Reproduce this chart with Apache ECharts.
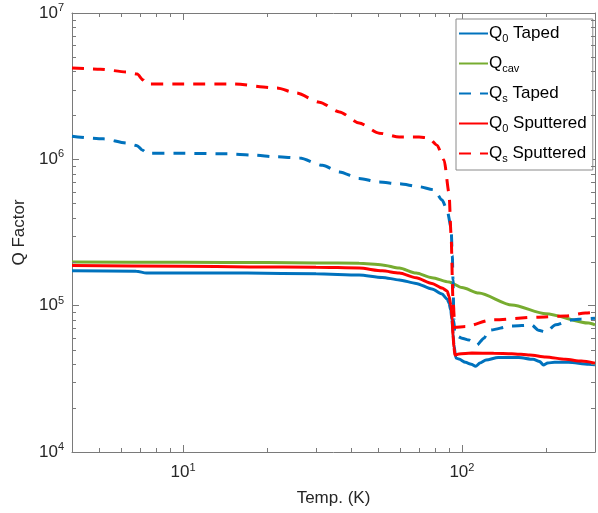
<!DOCTYPE html>
<html>
<head>
<meta charset="utf-8">
<script src="https://cdn.jsdelivr.net/npm/echarts@6/dist/echarts.min.js"></script>
<style>
  html, body { margin: 0; padding: 0; background: #fff; }
  #chart { width: 598px; height: 513px; }
</style>
</head>
<body>
<div id="chart"></div>
<script>
// Q0 Taped (blue solid)
var tempQ0Taped = [4, 6.8, 7.4, 17, 30, 42.8, 51.8, 59.6, 68.5, 78.1, 84.9, 88.5, 89.9, 91.2, 92.1, 93.0, 93.6, 95.1, 97.5, 103, 108, 112, 116, 122, 135, 160, 180, 190, 196, 203, 215, 241, 285, 300];
var q0Taped = [1.73e5, 1.72e5, 1.67e5, 1.67e5, 1.65e5, 1.62e5, 1.56e5, 1.50e5, 1.42e5, 1.30e5, 1.20e5, 1.11e5, 1.04e5, 9.3e4, 8.0e4, 6.4e4, 5.4e4, 4.39e4, 4.32e4, 4.1e4, 3.98e4, 3.85e4, 4.05e4, 4.25e4, 4.42e4, 4.42e4, 4.3e4, 4.15e4, 3.93e4, 4.05e4, 4.11e4, 4.1e4, 3.98e4, 3.95e4];

// Qcav (green)
var tempQcav = [4, 10, 20, 30, 42.8, 51.8, 59.6, 68.5, 78.1, 89.9, 100, 115, 151, 200, 285, 300];
var qCav = [1.99e5, 1.98e5, 1.97e5, 1.96e5, 1.95e5, 1.90e5, 1.81e5, 1.67e5, 1.55e5, 1.45e5, 1.33e5, 1.22e5, 1.01e5, 8.8e4, 7.6e4, 7.4e4];

// Qs Taped (blue dashed)
var tempQsTaped = [4, 5.18, 6.31, 6.85, 7.14, 7.43, 10, 14.4, 17.8, 21.7, 26.2, 31.6, 36.4, 42.8, 50.5, 59.6, 70.2, 79.4, 84.9, 88.5, 91.4, 92.4, 92.9, 93.6, 94.4, 100, 106, 113, 120, 125, 151, 178, 188, 200, 217, 247, 268, 300];
var qsTaped = [1.44e6, 1.38e6, 1.29e6, 1.24e6, 1.16e6, 1.10e6, 1.10e6, 1.09e6, 1.07e6, 1.04e6, 1.02e6, 9.1e5, 8.2e5, 7.4e5, 7.0e5, 6.8e5, 6.5e5, 6.2e5, 5.27e5, 4.5e5, 3.44e5, 2.2e5, 1.5e5, 7.9e4, 6.3e4, 6.0e4, 5.82e4, 5.38e4, 6.0e4, 6.8e4, 7.26e4, 7.37e4, 6.8e4, 6.6e4, 7.4e4, 7.98e4, 8.1e4, 8.2e4];

// Q0 Sputtered (red solid)
var tempQ0Sput = [4, 10, 17.3, 30, 42.8, 51.8, 59.6, 68.5, 78.1, 84.9, 88.5, 89.9, 91.4, 92.3, 92.9, 93.6, 94.4, 97.5, 108.6, 130, 151, 175, 200, 235, 268, 300];
var q0Sput = [1.88e5, 1.86e5, 1.84e5, 1.83e5, 1.81e5, 1.73e5, 1.67e5, 1.55e5, 1.42e5, 1.32e5, 1.26e5, 1.16e5, 1.0e5, 8.0e4, 6.3e4, 5.2e4, 4.6e4, 4.67e4, 4.74e4, 4.73e4, 4.7e4, 4.6e4, 4.46e4, 4.3e4, 4.18e4, 4.05e4];

// Qs Sputtered (red dashed)
var tempQsSput = [4, 5.06, 6.31, 6.85, 7.2, 7.43, 10, 15.1, 21.7, 25.5, 30.8, 36.4, 42.8, 50.5, 59.6, 70.2, 76, 81.4, 86.3, 89.9, 91.4, 92.9, 94.4, 103, 128, 188, 235, 277, 300];
var qsSput = [4.21e6, 4.13e6, 3.95e6, 3.83e6, 3.48e6, 3.27e6, 3.27e6, 3.27e6, 3.07e6, 2.84e6, 2.46e6, 2.11e6, 1.77e6, 1.51e6, 1.42e6, 1.42e6, 1.40e6, 1.25e6, 9.9e5, 5.9e5, 3.1e5, 1.09e5, 7.1e4, 7.2e4, 8.0e4, 8.35e4, 8.5e4, 8.9e4, 9.0e4];

var seriesNames = ['Q0 Taped', 'Qcav', 'Qs Taped', 'Q0 Sputtered', 'Qs Sputtered'];
var legendLabels = {
    'Q0 Taped': '{t|Q}{s|0}{t| Taped}',
    'Qcav': '{t|Q}{s|cav}',
    'Qs Taped': '{t|Q}{s|s}{t| Taped}',
    'Q0 Sputtered': '{t|Q}{s|0}{t| Sputtered}',
    'Qs Sputtered': '{t|Q}{s|s}{t| Sputtered}'
};

var xMin = 4, xMax = 300, yMin = 1e4, yMax = 1e7;
var xMinorTicks = [5, 6, 7, 8, 9, 20, 30, 40, 50, 60, 70, 80, 90, 200];
var yMinorTicks = [2e4, 3e4, 4e4, 5e4, 6e4, 7e4, 8e4, 9e4, 2e5, 3e5, 4e5, 5e5, 6e5, 7e5, 8e5, 9e5, 2e6, 3e6, 4e6, 5e6, 6e6, 7e6, 8e6, 9e6];

var FONT = '"Liberation Sans", Arial, Helvetica, sans-serif';
var AXIS_COLOR = '#7a7a7a';
var TEXT_COLOR = '#262626';
var BLUE = '#0072BD', GREEN = '#77AC30', RED = '#FF0000';

function pairs(xs, ys) {
    return xs.map(function (x, i) { return [x, ys[i]]; });
}

function powLabel(value) {
    var e = Math.round(Math.log10(value));
    if (Math.abs(Math.log10(value) - e) > 1e-6) return '';
    return '{b|10}{p|' + e + '}';
}

var powRich = {
    b: { fontSize: 17, fontFamily: FONT, color: TEXT_COLOR },
    p: { fontSize: 11, fontFamily: FONT, color: TEXT_COLOR, padding: [0, 0, 10, 0] }
};

function lineSeries(name, xs, ys, color, dashed) {
    return {
        name: name,
        type: 'line',
        data: pairs(xs, ys),
        symbol: 'none',
        smooth: 0.25,
        smoothMonotone: 'x',
        lineStyle: {
            color: color,
            width: 3,
            type: dashed ? [12, 9] : 'solid'
        },
        itemStyle: { color: color },
        z: 3
    };
}

// short inward ticks between the powers of ten, drawn on all four sides
function minorTickSeries(values, isX) {
    return {
        type: 'custom',
        silent: true,
        z: 5,
        clip: false,
        data: values.map(function (v) { return isX ? [v, yMin] : [xMin, v]; }),
        renderItem: function (params, api) {
            var cs = params.coordSys;
            var p = api.coord([api.value(0), api.value(1)]);
            var st = { stroke: AXIS_COLOR, lineWidth: 1 };
            var len = 4;
            if (isX) {
                var x = Math.round(p[0]) + 0.5;
                return { type: 'group', children: [
                    { type: 'line', shape: { x1: x, y1: cs.y + cs.height, x2: x, y2: cs.y + cs.height - len }, style: st },
                    { type: 'line', shape: { x1: x, y1: cs.y, x2: x, y2: cs.y + len }, style: st }
                ] };
            }
            var y = Math.round(p[1]) + 0.5;
            return { type: 'group', children: [
                { type: 'line', shape: { x1: cs.x, y1: y, x2: cs.x + len, y2: y }, style: st },
                { type: 'line', shape: { x1: cs.x + cs.width, y1: y, x2: cs.x + cs.width - len, y2: y }, style: st }
            ] };
        }
    };
}

var chart = echarts.init(document.getElementById('chart'));

var axisBase = {
    type: 'log',
    logBase: 10,
    axisLine: { show: true, lineStyle: { color: AXIS_COLOR, width: 1 } },
    axisTick: { show: true, inside: true, length: 7, lineStyle: { color: AXIS_COLOR } },
    splitLine: { show: false },
    minorTick: { show: false }
};

var option = {
    animation: false,
    backgroundColor: '#fff',
    grid: { left: 72, right: 1, top: 13, bottom: 61 },
    legend: {
        data: seriesNames,
        orient: 'vertical',
        left: 456,
        top: 19,
        padding: [6, 6, 6, 2],
        itemGap: 11,
        itemWidth: 29,
        itemHeight: 14,
        backgroundColor: '#fff',
        borderColor: '#8a8a8a',
        borderWidth: 1,
        borderRadius: 0,
        itemStyle: { opacity: 0, borderWidth: 0 },
        formatter: function (name) { return legendLabels[name]; },
        textStyle: {
            padding: [0, 0, 0, -4],
            rich: {
                t: { fontSize: 17, fontFamily: FONT, color: '#000' },
                s: { fontSize: 11, fontFamily: FONT, color: '#000', padding: [10, 0, 0, 0] }
            }
        }
    },
    xAxis: [
        Object.assign({}, axisBase, {
            position: 'bottom',
            min: xMin,
            max: xMax,
            name: 'Temp. (K)',
            nameLocation: 'middle',
            nameGap: 38,
            nameTextStyle: { fontSize: 17, fontFamily: FONT, color: TEXT_COLOR },
            axisLabel: { show: true, margin: 10, formatter: powLabel, rich: powRich }
        }),
        Object.assign({}, axisBase, {
            position: 'top',
            min: xMin,
            max: xMax,
            axisLabel: { show: false }
        })
    ],
    yAxis: [
        Object.assign({}, axisBase, {
            position: 'left',
            min: yMin,
            max: yMax,
            name: 'Q Factor',
            nameLocation: 'middle',
            nameGap: 40,
            nameTextStyle: { fontSize: 17, fontFamily: FONT, color: TEXT_COLOR },
            axisLabel: { show: true, margin: 8, formatter: powLabel, rich: powRich }
        }),
        Object.assign({}, axisBase, {
            position: 'right',
            min: yMin,
            max: yMax,
            axisLabel: { show: false }
        })
    ],
    series: [
        lineSeries('Q0 Taped', tempQ0Taped, q0Taped, BLUE, false),
        lineSeries('Qcav', tempQcav, qCav, GREEN, false),
        lineSeries('Qs Taped', tempQsTaped, qsTaped, BLUE, true),
        lineSeries('Q0 Sputtered', tempQ0Sput, q0Sput, RED, false),
        lineSeries('Qs Sputtered', tempQsSput, qsSput, RED, true),
        minorTickSeries(xMinorTicks, true),
        minorTickSeries(yMinorTicks, false)
    ]
};

chart.setOption(option);
</script>
</body>
</html>
